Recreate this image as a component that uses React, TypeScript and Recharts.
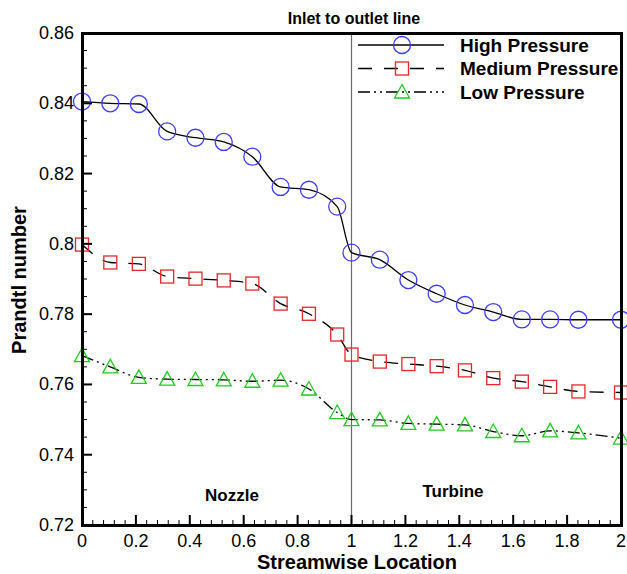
import React from "react";
import {
  LineChart,
  Line,
  XAxis,
  YAxis,
  ReferenceLine,
  Legend,
} from "recharts";

// Streamwise stations (nozzle 0..1, turbine 1..2)
const locations = [
  0, 0.105, 0.211, 0.316, 0.421, 0.526, 0.632, 0.737, 0.842, 0.947, 1.0,
  1.105, 1.211, 1.316, 1.421, 1.526, 1.632, 1.737, 1.842, 2.0,
];

const highPressure = [
  0.8405, 0.84, 0.8398, 0.832, 0.8302, 0.829, 0.8248, 0.8162, 0.8154, 0.8106,
  0.7975, 0.7955, 0.7897, 0.7858, 0.7826, 0.7806, 0.7785, 0.7785, 0.7784,
  0.7784,
];

const mediumPressure = [
  0.7998, 0.7947, 0.7943, 0.7907, 0.7901, 0.7896, 0.7887, 0.783, 0.7801,
  0.7742, 0.7685, 0.7665, 0.7658, 0.7652, 0.764, 0.7618, 0.7608, 0.7593,
  0.758, 0.7577,
];

const lowPressure = [
  0.7682, 0.765, 0.762, 0.7615, 0.7614, 0.7613, 0.7609, 0.7612, 0.7587, 0.752,
  0.75, 0.7499, 0.7489, 0.7487, 0.7485, 0.7466, 0.7454, 0.7468, 0.7462,
  0.7447,
];

const xMajorTicks = [0, 0.2, 0.4, 0.6, 0.8, 1, 1.2, 1.4, 1.6, 1.8, 2];
const yMajorTicks = [0.72, 0.74, 0.76, 0.78, 0.8, 0.82, 0.84, 0.86];

const data = locations.map((x, i) => ({
  x,
  high: highPressure[i],
  medium: mediumPressure[i],
  low: lowPressure[i],
}));

// Major ticks plus minor subdivisions between each pair
const subdivide = (majors: number[], parts: number) => {
  const out: number[] = [];
  for (let i = 0; i < majors.length - 1; i++) {
    const step = (majors[i + 1] - majors[i]) / parts;
    for (let k = 0; k < parts; k++) out.push(+(majors[i] + k * step).toFixed(4));
  }
  out.push(majors[majors.length - 1]);
  return out;
};
const xTicks = subdivide(xMajorTicks, 5);
const yTicks = subdivide(yMajorTicks, 4);

const isMajor = (v: number, list: number[]) =>
  list.some((m) => Math.abs(m - v) < 1e-6);

const WIDTH = 627;
const HEIGHT = 574;
const Y_AXIS_W = 82;
const X_AXIS_H = 49;
const TOP = 33;
const RIGHT = 6;
const PLOT_LEFT = Y_AXIS_W;
const PLOT_BOTTOM = HEIGHT - X_AXIS_H;
const PLOT_RIGHT = WIDTH - RIGHT;
const FRAME_W = 3;

const FONT = "'Liberation Sans', Arial, Helvetica, sans-serif";

const BLUE = "#3b3bff";
const RED = "#e8262a";
const GREEN = "#1fcc1f";

const fmt = (v: number) => String(Number(v.toFixed(3)));

const XTick = (props: any) => {
  const { x, payload } = props;
  const major = isMajor(payload.value, xMajorTicks);
  return (
    <g>
      <line
        x1={x}
        x2={x}
        y1={PLOT_BOTTOM}
        y2={PLOT_BOTTOM - (major ? 10 : 5)}
        stroke="#000"
        strokeWidth={major ? 2 : 1}
      />
      {major && (
        <text
          x={x}
          y={PLOT_BOTTOM + 16}
          textAnchor="middle"
          dominantBaseline="central"
          fontFamily={FONT}
          fontSize={18}
          fill="#000"
        >
          {fmt(payload.value)}
        </text>
      )}
    </g>
  );
};

const YTick = (props: any) => {
  const { y, payload } = props;
  const major = isMajor(payload.value, yMajorTicks);
  return (
    <g>
      <line
        x1={PLOT_LEFT}
        x2={PLOT_LEFT + (major ? 10 : 5)}
        y1={y}
        y2={y}
        stroke="#000"
        strokeWidth={major ? 2 : 1}
      />
      {major && (
        <text
          x={PLOT_LEFT - 8}
          y={y}
          textAnchor="end"
          dominantBaseline="central"
          fontFamily={FONT}
          fontSize={18}
          fill="#000"
        >
          {fmt(payload.value)}
        </text>
      )}
    </g>
  );
};

const CircleMark = ({ cx, cy }: { cx: number; cy: number }) => (
  <circle cx={cx} cy={cy} r={8.5} fill="none" stroke={BLUE} strokeWidth={1.3} />
);
const SquareMark = ({ cx, cy }: { cx: number; cy: number }) => (
  <rect
    x={cx - 6.5}
    y={cy - 6.5}
    width={13}
    height={13}
    fill="none"
    stroke={RED}
    strokeWidth={1.3}
  />
);
const TriangleMark = ({ cx, cy }: { cx: number; cy: number }) => (
  <polygon
    points={`${cx},${cy - 7.5} ${cx - 7.5},${cy + 6} ${cx + 7.5},${cy + 6}`}
    fill="none"
    stroke={GREEN}
    strokeWidth={1.3}
  />
);

const makeDot = (Mark: any) => (p: any) =>
  p.cx == null ? <g key={p.key} /> : <Mark key={p.key} cx={p.cx} cy={p.cy} />;

const series = [
  { key: "high", name: "High Pressure", dash: undefined, Mark: CircleMark },
  { key: "medium", name: "Medium Pressure", dash: "14 12", Mark: SquareMark },
  { key: "low", name: "Low Pressure", dash: "12 4 2 4 2 4", Mark: TriangleMark },
];

const LegendBox = () => (
  <svg width={270} height={75} style={{ display: "block" }}>
    {series.map((s, i) => {
      const cy = 12 + i * 23.5;
      return (
        <g key={s.key}>
          <line
            x1={8}
            x2={94}
            y1={cy}
            y2={cy}
            stroke="#000"
            strokeWidth={1.3}
            strokeDasharray={s.dash}
          />
          <s.Mark cx={52} cy={cy} />
          <text
            x={110}
            y={cy}
            dominantBaseline="central"
            fontFamily={FONT}
            fontWeight="bold"
            fontSize={19}
            fill="#000"
          >
            {s.name}
          </text>
        </g>
      );
    })}
  </svg>
);

export default function App() {
  return (
    <div
      style={{
        position: "absolute",
        left: 0,
        top: 0,
        width: WIDTH,
        height: HEIGHT,
        background: "#fff",
      }}
    >
      <LineChart
        width={WIDTH}
        height={HEIGHT}
        data={data}
        margin={{ top: TOP, right: RIGHT, bottom: 0, left: 0 }}
      >
        <XAxis
          dataKey="x"
          type="number"
          domain={[0, 2]}
          ticks={xTicks}
          interval={0}
          axisLine={false}
          tickLine={false}
          height={X_AXIS_H}
          tick={<XTick />}
        />
        <YAxis
          type="number"
          domain={[0.72, 0.86]}
          ticks={yTicks}
          interval={0}
          axisLine={false}
          tickLine={false}
          width={Y_AXIS_W}
          tick={<YTick />}
        />
        <ReferenceLine x={1} stroke="#6a6a6a" strokeWidth={1.2} />
        {series.map((s) => (
          <Line
            key={s.key}
            dataKey={s.key}
            name={s.name}
            type="monotone"
            stroke="#000"
            strokeWidth={1.3}
            strokeDasharray={s.dash}
            dot={makeDot(s.Mark)}
            activeDot={false}
            isAnimationActive={false}
          />
        ))}
        <Legend
          layout="horizontal"
          verticalAlign="middle"
          align="center"
          content={<LegendBox />}
          wrapperStyle={{ left: 350, top: 33, width: 270, height: 75 }}
        />
        <text
          x={354}
          y={18}
          textAnchor="middle"
          dominantBaseline="central"
          fontFamily={FONT}
          fontWeight="bold"
          fontSize={16}
          fill="#000"
        >
          Inlet to outlet line
        </text>
        <text
          x={232}
          y={495}
          textAnchor="middle"
          dominantBaseline="central"
          fontFamily={FONT}
          fontWeight="bold"
          fontSize={17}
          fill="#000"
        >
          Nozzle
        </text>
        <text
          x={453}
          y={491}
          textAnchor="middle"
          dominantBaseline="central"
          fontFamily={FONT}
          fontWeight="bold"
          fontSize={17}
          fill="#000"
        >
          Turbine
        </text>
        <text
          x={357}
          y={562}
          textAnchor="middle"
          dominantBaseline="central"
          fontFamily={FONT}
          fontWeight="bold"
          fontSize={20}
          fill="#000"
        >
          Streamwise Location
        </text>
        <text
          x={19}
          y={280}
          transform="rotate(-90 19 280)"
          textAnchor="middle"
          dominantBaseline="central"
          fontFamily={FONT}
          fontWeight="bold"
          fontSize={20}
          fill="#000"
        >
          Prandtl number
        </text>
      </LineChart>
      {/* plot frame, centred on the plot-area edges */}
      <div
        style={{
          position: "absolute",
          boxSizing: "border-box",
          left: PLOT_LEFT - FRAME_W / 2,
          top: TOP - FRAME_W / 2,
          width: PLOT_RIGHT - PLOT_LEFT + FRAME_W,
          height: PLOT_BOTTOM - TOP + FRAME_W,
          border: `${FRAME_W}px solid #000`,
          pointerEvents: "none",
        }}
      />
    </div>
  );
}
